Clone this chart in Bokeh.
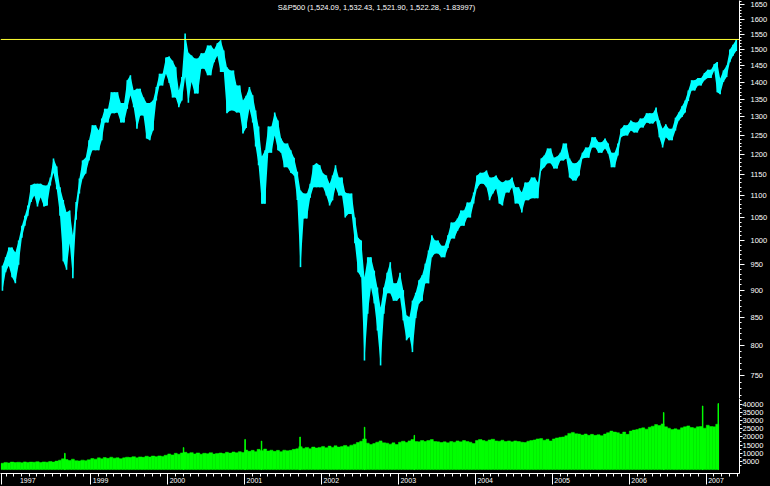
import pandas as pd
from bokeh.plotting import figure
from bokeh.layouts import column
from bokeh.models import (Range1d, FixedTicker, NumeralTickFormatter, Span, Label,
                          ColumnDataSource, GlobalInlineStyleSheet)
from bokeh.embed import file_html
from bokeh.resources import INLINE

TITLE = "S&P500 (1,524.09, 1,532.43, 1,521.90, 1,522.28, -1.83997)"
START = "1997-11-01"          # first half-month period
LEVEL = 1532.43               # horizontal reference line
UNIT_BOX = "x100000"

# half-month high / low of the S&P 500 (Nov 1997 .. May 2007)
high = [948, 965, 985, 985, 975, 1000, 1032, 1054, 1077, 1125,
        1128, 1128, 1128, 1124, 1124, 1143, 1190, 1170, 1120, 1090,
        1062, 1066, 1011, 1085, 1141, 1185, 1192, 1237, 1277, 1277,
        1263, 1296, 1323, 1323, 1370, 1370, 1370, 1339, 1339, 1405,
        1420, 1375, 1380, 1380, 1355, 1339, 1339, 1346, 1385, 1425,
        1425, 1475, 1478, 1465, 1445, 1375, 1415, 1552, 1490, 1481,
        1472, 1472, 1488, 1488, 1513, 1513, 1500, 1520, 1530, 1497,
        1445, 1435, 1435, 1390, 1390, 1346, 1360, 1385, 1361, 1318,
        1274, 1195, 1211, 1274, 1274, 1312, 1290, 1242, 1229, 1229,
        1211, 1192, 1157, 1112, 1105, 1105, 1128, 1173, 1178, 1173,
        1153, 1148, 1128, 1148, 1173, 1143, 1143, 1107, 1105, 1105,
        1050, 1006, 1000, 925, 965, 965, 938, 905, 867, 905,
        934, 955, 913, 913, 934, 900, 853, 850, 880, 895,
        919, 929, 952, 979, 1011, 1000, 1000, 989, 989, 1011,
        1039, 1039, 1048, 1066, 1066, 1084, 1084, 1107, 1148, 1155,
        1155, 1160, 1143, 1143, 1148, 1136, 1131, 1136, 1136, 1143,
        1120, 1120, 1107, 1131, 1131, 1143, 1143, 1131, 1190, 1198,
        1216, 1216, 1192, 1195, 1205, 1229, 1229, 1190, 1178, 1178,
        1185, 1205, 1218, 1218, 1245, 1245, 1232, 1232, 1242, 1229,
        1205, 1205, 1229, 1268, 1277, 1277, 1290, 1285, 1285, 1296,
        1296, 1310, 1310, 1310, 1326, 1290, 1268, 1280, 1268, 1268,
        1298, 1312, 1330, 1346, 1375, 1405, 1405, 1412, 1412, 1427,
        1437, 1437, 1455, 1461, 1410, 1435, 1450, 1500, 1515, 1532]
low = [899, 935, 948, 925, 913, 950, 1006, 1032, 1054, 1085,
       1100, 1075, 1096, 1075, 1077, 1124, 1155, 1115, 1054, 957,
       940, 994, 923, 1045, 1105, 1141, 1153, 1185, 1211, 1211,
       1211, 1237, 1285, 1285, 1310, 1310, 1312, 1285, 1285, 1323,
       1361, 1327, 1268, 1304, 1304, 1242, 1237, 1263, 1346, 1390,
       1390, 1425, 1397, 1355, 1355, 1327, 1346, 1415, 1340, 1400,
       1366, 1366, 1440, 1440, 1420, 1420, 1460, 1480, 1430, 1430,
       1310, 1318, 1318, 1312, 1312, 1255, 1270, 1323, 1285, 1221,
       1173, 1081, 1081, 1205, 1205, 1250, 1211, 1205, 1168, 1168,
       1155, 1148, 1090, 945, 1048, 1048, 1095, 1120, 1120, 1120,
       1120, 1100, 1077, 1089, 1120, 1100, 1100, 1050, 1058, 1058,
       994, 935, 925, 775, 856, 905, 875, 826, 767, 856,
       894, 894, 880, 880, 886, 844, 809, 815, 789, 848,
       875, 880, 913, 913, 965, 973, 973, 965, 965, 984,
       1004, 1004, 1021, 1032, 1032, 1050, 1050, 1082, 1117, 1128,
       1128, 1120, 1089, 1105, 1117, 1082, 1077, 1107, 1107, 1120,
       1082, 1082, 1061, 1089, 1089, 1094, 1094, 1094, 1160, 1168,
       1178, 1178, 1165, 1165, 1185, 1185, 1190, 1143, 1136, 1136,
       1148, 1190, 1192, 1192, 1218, 1218, 1205, 1205, 1216, 1203,
       1168, 1168, 1198, 1245, 1250, 1250, 1263, 1258, 1258, 1271,
       1271, 1285, 1282, 1282, 1290, 1245, 1218, 1245, 1237, 1237,
       1263, 1290, 1300, 1312, 1345, 1375, 1375, 1390, 1390, 1405,
       1412, 1412, 1435, 1370, 1364, 1400, 1415, 1460, 1480, 1495]

# half-month volume (chart units), Nov 1997 .. Feb 2007
volume = [3900, 4400, 4100, 4600, 4300, 4500, 4200, 4700, 4400, 4600,
          4500, 4800, 4300, 4700, 4500, 4900, 4600, 5200, 5800, 6600,
          6200, 5600, 6400, 5500, 5300, 5800, 5400, 6000, 6800, 6400,
          7200, 6600, 7400, 6900, 7600, 7000, 7300, 6700, 7200, 7600,
          7400, 7900, 7200, 7800, 7500, 8200, 7700, 8300, 7900, 8400,
          8100, 8800, 9600, 9000, 10000, 9400, 10200, 10600, 9800, 10400,
          9600, 10200, 9400, 10000, 9700, 10300, 9500, 9900, 10200, 9800,
          10600, 10100, 10800, 10300, 11000, 10500, 12000, 11200, 11800, 11000,
          12400, 11600, 12600, 11400, 11900, 11200, 11800, 11000, 11900, 11500,
          11800, 12400, 12800, 14000, 13000, 13600, 12800, 13800, 13200, 13600,
          14200, 13400, 14400, 13600, 14600, 13800, 14200, 14800, 14000, 15000,
          15600, 16600, 17400, 18800, 16200, 15400, 16000, 16800, 17600, 16400,
          16200, 15600, 16400, 15400, 16800, 17400, 16600, 17600, 18400, 17200,
          17000, 17800, 17200, 17800, 18400, 17200, 17000, 16600, 17000, 16400,
          17200, 16800, 17600, 17000, 17800, 17200, 16800, 16000, 17800, 18400,
          17800, 17400, 18200, 18600, 17600, 17400, 18000, 17200, 17600, 17000,
          17600, 17200, 16800, 16600, 17400, 17800, 18200, 18800, 19000, 18000,
          18600, 17600, 18800, 19400, 19800, 20000, 20800, 22200, 22800, 22000,
          21800, 21200, 21800, 21000, 21600, 21000, 21400, 20800, 21800, 22600,
          23600, 23000, 22600, 21800, 23000, 21600, 23600, 24200, 24600, 25200,
          25600, 24800, 26000, 26600, 27600, 27000, 28000, 26200, 25400, 24600,
          25000, 24400, 25600, 26200, 26800, 25800, 25400, 26200, 26400, 25400,
          27200, 26400, 26200, 27800]

# single-day volume spikes
spike_days = ["1998-08-31", "2000-03-16", "2001-01-03", "2001-03-22", "2001-09-21",
              "2002-07-24", "2003-03-17", "2006-06-13", "2006-12-15", "2007-02-27"]
spike_vol = [10000, 13500, 18500, 17500, 20000, 26000, 21000, 35000, 39000, 40500]

price_ticks = list(range(750, 1651, 50))
price_minor = list(range(720, 1661, 10))
vol_ticks = list(range(5000, 40001, 5000))
years = list(range(1999, 2008))
FIRST_LABEL = "1997"


def fyear(ts):
    ts = pd.DatetimeIndex(ts)
    return (ts.year + (ts.dayofyear - 1) / 365.25).to_numpy()


edges = pd.date_range(START, periods=len(high) + 1, freq="SMS")
left = fyear(edges[:-1])
right = fyear(edges[1:])
mid = (left + right) / 2
vn = len(volume)

X0, X1 = 1997.826, 2007.432
xr = Range1d(X0, X1)

FONT = "Liberation Sans"
CYAN = "#00ffff"
GREEN = "#00ff00"

# ---------------- price panel ----------------
p1 = figure(width=770, height=398, x_range=xr, y_range=Range1d(715, 1664.6),
            y_axis_type="log", y_axis_location="right", x_axis_location=None,
            output_backend="svg", toolbar_location=None,
            background_fill_color="black", border_fill_color="black",
            outline_line_color=None, min_border_left=0, min_border_top=0,
            min_border_bottom=0, min_border_right=29)
p1.grid.visible = False
src = ColumnDataSource(dict(x=mid, hi=high, lo=low))
p1.varea(x="x", y1="lo", y2="hi", source=src, fill_color=CYAN)
p1.segment(x0="x", y0="lo", x1="x", y1="hi", source=src, line_color=CYAN, line_width=1.6)
p1.add_layout(Span(location=LEVEL, dimension="width", line_color="#ffff33", line_width=1))
ya = p1.yaxis[0]
ya.ticker = FixedTicker(ticks=price_ticks, minor_ticks=price_minor)
ya.formatter = NumeralTickFormatter(format="0")
ya.axis_line_color = "white"
ya.major_tick_line_color = "white"
ya.minor_tick_line_color = "white"
ya.major_tick_out = 5
ya.major_tick_in = 0
ya.minor_tick_out = 2
ya.minor_tick_in = 0
ya.major_label_standoff = 6
ya.major_label_text_color = "white"
ya.major_label_text_font = FONT
ya.major_label_text_font_size = "7.5px"
p1.add_layout(Label(x=(X0 + 2007.0) / 2 + 0.3, y=1640, text=TITLE, text_color="white",
                    text_font=FONT, text_font_size="7.5px", text_align="center",
                    text_baseline="middle"))

# ---------------- volume panel ----------------
p2 = figure(width=770, height=88, x_range=xr, y_range=Range1d(-2390, 43580),
            y_axis_location="right", output_backend="svg", toolbar_location=None,
            background_fill_color="black", border_fill_color="black",
            outline_line_color=None, min_border_left=0, min_border_top=0,
            min_border_bottom=11, min_border_right=29)
p2.grid.visible = False
vsrc = ColumnDataSource(dict(left=left[:vn], right=right[:vn], top=volume))
p2.quad(left="left", right="right", top="top", bottom=0, source=vsrc,
        fill_color=GREEN, line_color=GREEN, line_width=0.5)
sx = fyear(pd.to_datetime(spike_days))
p2.vbar(x=sx, width=0.006, top=spike_vol, bottom=0, fill_color=GREEN, line_color=GREEN)
p2.add_layout(Label(x=743, y=72, x_units="canvas", y_units="canvas", text=UNIT_BOX,
                    text_color="white", text_font=FONT, text_font_size="5.5px",
                    text_align="left", text_baseline="middle",
                    border_line_color="white", border_line_width=1, padding=1))

va = p2.yaxis[0]
va.ticker = FixedTicker(ticks=vol_ticks, minor_ticks=list(range(2500, 42501, 2500)))
va.axis_line_color = "white"
va.major_tick_line_color = "white"
va.minor_tick_line_color = "white"
va.major_tick_out = 3
va.major_tick_in = 0
va.minor_tick_out = 2
va.minor_tick_in = 0
va.major_label_standoff = 0
va.major_label_text_color = "white"
va.major_label_text_font = FONT
va.major_label_text_font_size = "7.5px"

xa = p2.xaxis[0]
first = float(left[0]) + 0.004
xt = [first] + [float(y) for y in years]
minor = []
for y in range(1997, 2008):
    for m in range(10):
        v = y + m / 10
        if X0 < v < X1:
            minor.append(v)
xa.ticker = FixedTicker(ticks=xt, minor_ticks=minor)
pad = "\u2007" * 5
xa.major_label_overrides = {xt[0]: pad + FIRST_LABEL, **{float(y): pad + str(y) for y in years}}
xa.axis_line_color = "white"
xa.major_tick_line_color = "white"
xa.minor_tick_line_color = "white"
xa.major_tick_out = 11
xa.major_tick_in = 0
xa.minor_tick_out = 3
xa.minor_tick_in = 0
xa.major_label_standoff = -8
xa.major_label_text_color = "white"
xa.major_label_text_font = FONT
xa.major_label_text_font_size = "7px"

p = column(p1, p2, spacing=0)
p.stylesheets = [GlobalInlineStyleSheet(
    css="html,body{margin:0;padding:0;background:#000;overflow:hidden;}")]

open("out.html", "w").write(file_html(p, INLINE))
